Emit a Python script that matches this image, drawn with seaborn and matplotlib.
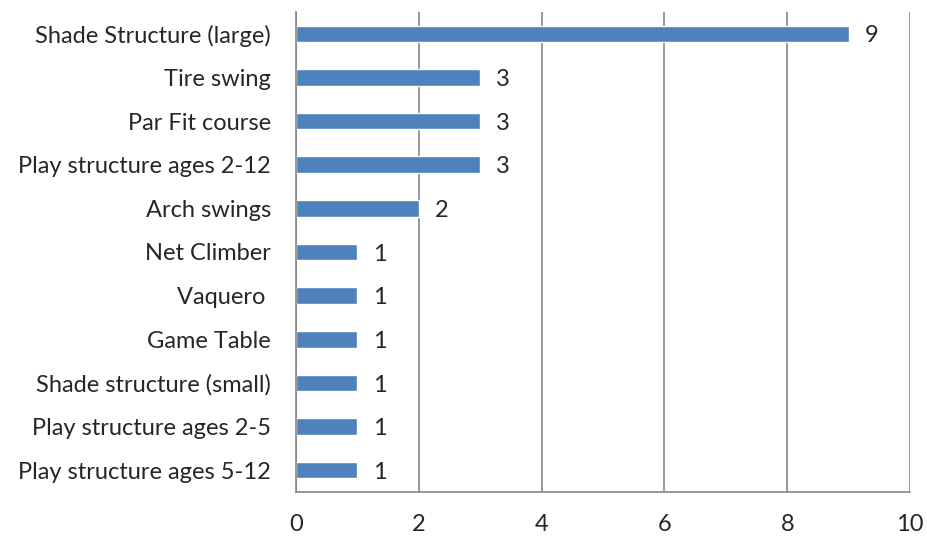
import matplotlib
matplotlib.use("Agg")
import matplotlib.pyplot as plt
import seaborn as sns
import pandas as pd

# data (top to bottom as shown)
items = [
    "Shade Structure (large)",
    "Tire swing",
    "Par Fit course",
    "Play structure ages 2-12",
    "Arch swings",
    "Net Climber",
    "Vaquero ",
    "Game Table",
    "Shade structure (small)",
    "Play structure ages 2-5",
    "Play structure ages 5-12",
]
counts = [9, 3, 3, 3, 2, 1, 1, 1, 1, 1, 1]
x_ticks = [0, 2, 4, 6, 8, 10]

df = pd.DataFrame({"item": items, "count": counts})

sns.set_style("white")
plt.rcParams["font.family"] = ["Lato", "DejaVu Sans"]

fig = plt.figure(figsize=(9.27, 5.40), dpi=100)
ax = fig.add_axes([296 / 927, 48 / 540, 614 / 927, 480 / 540])

sns.barplot(data=df, x="count", y="item", orient="h", color="#4F81BD",
            saturation=1, width=0.38, ax=ax)

axis_grey = "#868686"
ax.set_xlim(0, 10)
ax.set_ylim(len(items) - 0.5, -0.5)
ax.set_xticks(x_ticks)
ax.set_xticklabels([str(t) for t in x_ticks], fontsize=17)
ax.grid(axis="x", color=axis_grey, linewidth=1.2)
ax.set_axisbelow(True)

# category boundary ticks on the y axis, labels centred on bars
ax.set_yticks(range(len(items)))
ax.set_yticklabels(items, fontsize=17)
ax.set_yticks([i - 0.5 for i in range(len(items) + 1)], minor=True)
ax.tick_params(axis="y", which="major", length=0, pad=18)
ax.tick_params(axis="y", which="minor", length=6, width=1.2, color=axis_grey, direction="out")
ax.tick_params(axis="x", length=6, width=1.2, color=axis_grey, direction="out", pad=10)

for side in ["top", "right"]:
    ax.spines[side].set_visible(False)
for side in ["left", "bottom"]:
    ax.spines[side].set_color(axis_grey)
    ax.spines[side].set_linewidth(1.2)

ax.set_xlabel("")
ax.set_ylabel("")

for i, v in enumerate(counts):
    ax.text(v + 0.37, i + 0.05, str(v), va="center", ha="center", fontsize=17)

fig.savefig("out.png", dpi=100)
